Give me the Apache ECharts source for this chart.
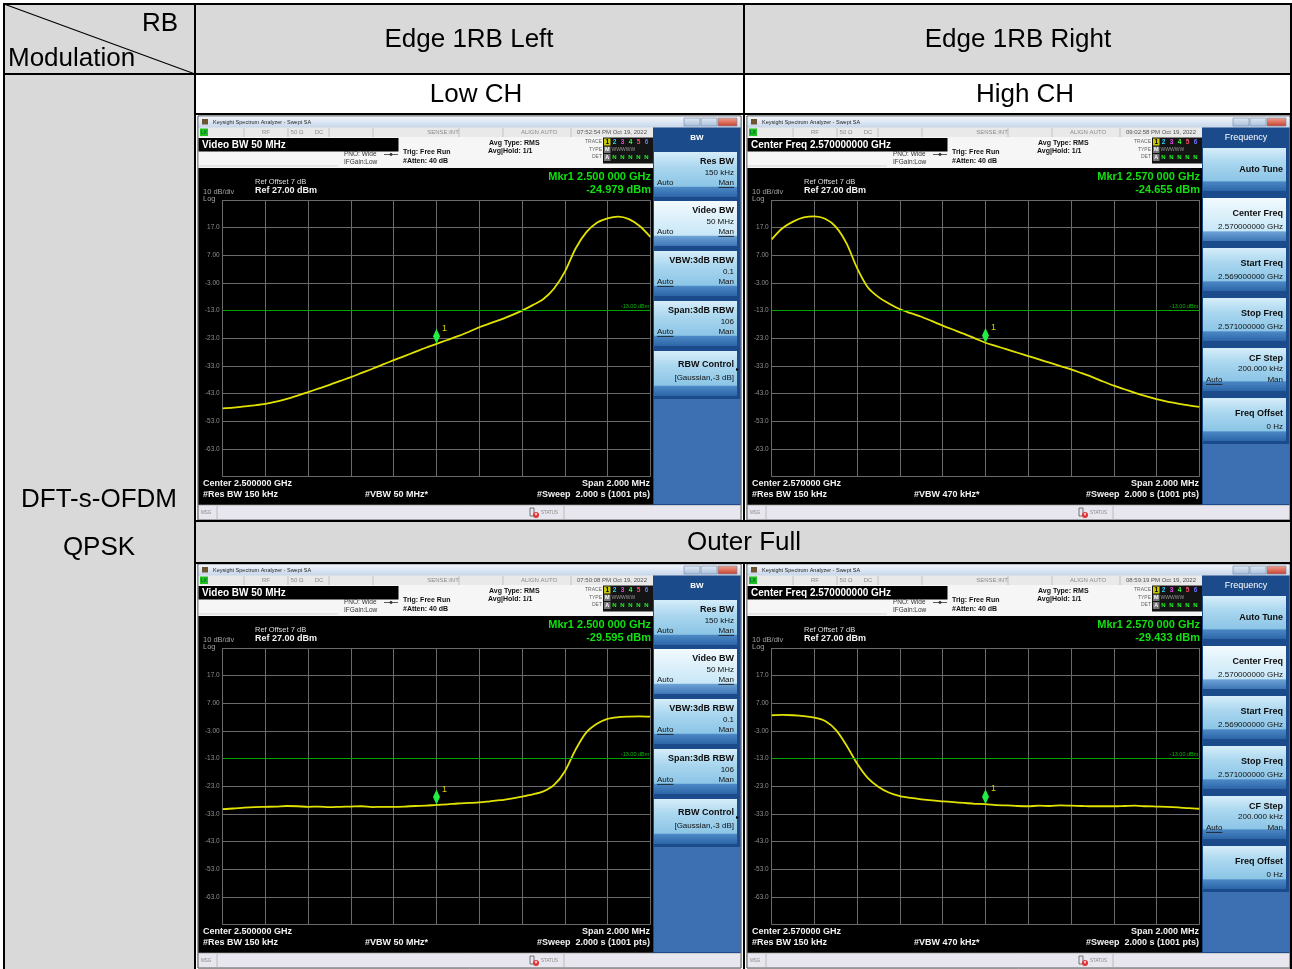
<!DOCTYPE html>
<html><head><meta charset="utf-8">
<script src="https://cdn.jsdelivr.net/npm/echarts@6/dist/echarts.min.js"></script>
<style>html,body{margin:0;padding:0;background:#fff;}#c{width:1292px;height:969px;}</style>
</head><body><div id="c"></div>
<script>
// ---------- DATA ----------
const freqOffsetMHz = [-1.00,-0.95,-0.90,-0.85,-0.80,-0.75,-0.70,-0.65,-0.60,-0.55,-0.50,-0.45,-0.40,-0.35,-0.30,-0.25,-0.20,-0.15,-0.10,-0.05,0.00,0.05,0.10,0.15,0.20,0.25,0.30,0.35,0.40,0.45,0.50,0.55,0.60,0.65,0.70,0.75,0.80,0.85,0.90,0.95,1.00];
const lowChDbm = [-48.3,-48.0,-47.6,-47.2,-46.7,-45.9,-44.9,-43.7,-42.4,-41.1,-39.8,-38.4,-37.0,-35.5,-34.0,-32.4,-30.9,-29.4,-27.9,-26.4,-25.0,-23.6,-22.2,-20.7,-19.0,-17.6,-16.2,-14.7,-13.0,-11.0,-8.8,-5.0,1.0,9.4,15.3,18.8,20.4,21.0,20.1,17.6,13.7];
const highChDbm = [12.8,16.8,19.2,20.7,21.1,20.2,17.3,11.3,2.3,-4.6,-8.1,-10.5,-12.5,-13.9,-15.2,-16.8,-18.4,-19.9,-21.4,-23.0,-24.6,-25.8,-27.0,-28.2,-29.4,-30.6,-31.8,-33.0,-34.2,-35.6,-37.0,-38.6,-40.1,-41.4,-42.7,-43.9,-45.0,-45.9,-46.6,-47.2,-47.8];
const outerLeftDbm = [-31.2,-31.0,-30.7,-30.5,-30.4,-30.3,-30.1,-30.2,-30.4,-30.3,-30.5,-30.4,-30.3,-30.2,-30.5,-30.4,-30.4,-30.3,-30.1,-30.0,-29.7,-29.5,-29.2,-29.0,-28.8,-28.4,-28.0,-27.4,-26.7,-25.9,-24.8,-22.5,-17.6,-9.8,-3.6,-0.4,1.4,2.0,2.2,2.3,2.2];
const outerRightDbm = [2.7,2.8,2.7,2.4,1.8,0.6,-2.6,-8.2,-14.8,-20.0,-23.2,-25.3,-26.5,-27.2,-27.7,-28.1,-28.4,-28.7,-29.0,-29.3,-29.4,-29.8,-29.9,-30.1,-30.2,-30.0,-30.1,-29.9,-30.0,-30.1,-30.2,-30.2,-30.2,-30.1,-30.0,-30.2,-30.3,-30.4,-30.6,-30.9,-31.1];
const yTickValues = [17, 7, -3, -13, -23, -33, -43, -53, -63];
const yTickLabels = ['17.0','7.00','-3.00','-13.0','-23.0','-33.0','-43.0','-53.0','-63.0'];
const refLevelDbm = 27, bottomDbm = -73, dbPerDiv = 10;
const spanMinMHz = -1, spanMaxMHz = 1, mhzPerDiv = 0.2;
const limitDbm = -13;
const limitLabel = '-13.00 dBm';
const markerFreqMHz = [0, 0, 0, 0];
const markerDbm = [-24.979, -24.655, -29.595, -29.433];
const columnHeaders = ['Edge 1RB Left', 'Edge 1RB Right'];
const channelLabels = ['Low CH', 'High CH'];

// ---------- helpers ----------
const F = "'Liberation Sans', Arial, Helvetica, sans-serif";
const G = [];
const mctx = document.createElement('canvas').getContext('2d');
function tw(t, font){ mctx.font = font; return mctx.measureText(t).width; }
function R(x,y,w,h,fill,o){ o=o||{}; const st={fill:fill}; if(o.stroke){st.stroke=o.stroke; st.lineWidth=o.lw||1;} G.push({type:'rect', silent:true, z:o.z||1, shape:{x:x,y:y,width:w,height:h}, style:st}); }
function L(x1,y1,x2,y2,stroke,lw,z){ G.push({type:'line', silent:true, z:z||2, shape:{x1:x1,y1:y1,x2:x2,y2:y2}, style:{stroke:stroke, lineWidth:lw||1}}); }
function C(cx,cy,r,fill,z){ G.push({type:'circle', silent:true, z:z||10, shape:{cx:cx,cy:cy,r:r}, style:{fill:fill}}); }
function T(x,y,t,size,fill,o){ o=o||{}; const font=(o.bold?'bold ':'')+size+'px '+F; const al=o.align||'left';
  G.push({type:'text', silent:true, z:o.z||10, x:x, y:y, style:{text:t, fill:fill, font:font, textAlign:al, textVerticalAlign:'middle', align:al, verticalAlign:'middle'}});
  if(o.ul){ const w=tw(t,font); const x0 = al==='right'? x-w : (al==='center'? x-w/2 : x); L(x0, y+size*0.55, x0+w, y+size*0.55, fill, 0.8, 11); } }
function LG(stops){ return new echarts.graphic.LinearGradient(0,0,0,1, stops.map(s=>({offset:s[0], color:s[1]}))); }

// ---------- table ----------
R(4,4,1288,70,'#d9d9d9');
R(4,74,191,895,'#d9d9d9');
R(195,74,1097,40,'#ffffff');
R(195,521,1097,42,'#d9d9d9');
[[3,4,1292,4],[4,3,4,969],[195,4,195,969],[744,4,744,521],[744,563,744,969],[1291,4,1291,969],
 [4,74,1292,74],[195,114,1292,114],[195,521,1292,521],[195,563,1292,563]].forEach(l=>L(l[0],l[1],l[2],l[3],'#000',2,20));
L(4,4,195,74,'#000',1.2,20);
T(178,24,'RB',26,'#000',{align:'right'});
T(8,59,'Modulation',26,'#000');
T(469,40,columnHeaders[0],26,'#000',{align:'center'});
T(1018,40,columnHeaders[1],26,'#000',{align:'center'});
T(476,95,channelLabels[0],26,'#000',{align:'center'});
T(1025,95,channelLabels[1],26,'#000',{align:'center'});
T(744,543,'Outer Full',26,'#000',{align:'center'});
T(99,500,'DFT-s-OFDM',26,'#000',{align:'center'});
T(99,548,'QPSK',26,'#000',{align:'center'});

// ---------- screenshot chrome ----------
const bwPanel = {title:'BW', bold:true, buttons:[
  {top:36,h:45,kind:'tri',title:'Res BW',value:'150 kHz',ul:'man'},
  {top:85,h:45,kind:'tri',title:'Video BW',value:'50 MHz',ul:'man',sel:true},
  {top:135,h:45,kind:'tri',title:'VBW:3dB RBW',value:'0.1',ul:'auto'},
  {top:185,h:45,kind:'tri',title:'Span:3dB RBW',value:'106',ul:'auto'},
  {top:235,h:45,kind:'rbw',title:'RBW Control',value:'[Gaussian,-3 dB]'}]};
const freqPanel = {title:'Frequency', bold:false, buttons:[
  {top:32,h:43,kind:'one',title:'Auto Tune'},
  {top:82,h:43,kind:'two',title:'Center Freq',value:'2.570000000 GHz',sel:true},
  {top:132,h:43,kind:'two',title:'Start Freq',value:'2.569000000 GHz'},
  {top:182,h:43,kind:'two',title:'Stop Freq',value:'2.571000000 GHz'},
  {top:232,h:43,kind:'tri',title:'CF Step',value:'200.000 kHz',ul:'auto'},
  {top:282,h:43,kind:'two',title:'Freq Offset',value:'0 Hz'}]};

function screen(ox, oy, c) {
  const X=v=>ox+v, Y=v=>oy+v;
  R(X(0),Y(0),543,404,'#cdd6e2',{stroke:'#2e2e2e',lw:1});
  // title bar
  R(X(0.5),Y(0.5),542,11,LG([[0,'#f3f7fc'],[1,'#c6d6ea']]));
  R(X(4),Y(3),6,5.5,'#6e5330');
  T(X(15),Y(6),'Keysight Spectrum Analyzer - Swept SA',5.5,'#1e1e1e');
  [[486,16,'#e2eaf5','#a8bfdc'],[503,16,'#e2eaf5','#a8bfdc'],[520,19,'#f2a595','#c63e2c']].forEach(b=>{
    R(X(b[0]),Y(2),b[1],8,LG([[0,b[2]],[1,b[3]]]),{stroke:'#6f86a6',lw:0.6,z:2}); });
  // status row
  R(X(0.5),Y(11.5),455,9.5,'#e9e9e9');
  [46,90,131,175,261,305,373].forEach(v=>L(X(v),Y(12),X(v),Y(21),'#b3b3b3',0.7));
  R(X(2),Y(12.5),8,7.5,'#20c020',{z:2});
  T(X(3),Y(16.4),'LX',4.5,'#064',{bold:true});
  [['RF',68],['50 Ω',99],['DC',121],['SENSE:INT',245],['ALIGN AUTO',341]].forEach(s=>T(X(s[1]),Y(16.5),s[0],6,'#8c8c8c',{align:'center'}));
  T(X(414),Y(16.5),c.time,6,'#555',{align:'center'});
  // info area
  R(X(0.5),Y(21),455,31,'#f6f6f6');
  R(X(0.5),Y(22),200,13.5,'#000',{z:2});
  T(X(4),Y(29),c.active,10,'#fff',{bold:true});
  L(X(1),Y(50),X(140),Y(50),'#cfcfcf',0.8);
  T(X(146),Y(38.5),'PNO: Wide',6.5,'#333');
  T(X(146),Y(46.2),'IFGain:Low',6.5,'#333');
  L(X(186),Y(38.5),X(200),Y(38.5),'#333',0.8,10); C(X(193),Y(38.5),1.4,'#333');
  T(X(205),Y(36.5),'Trig: Free Run',7,'#111',{bold:true});
  T(X(205),Y(45.5),'#Atten: 40 dB',7,'#111',{bold:true});
  T(X(291),Y(27),'Avg Type: RMS',7,'#111',{bold:true});
  T(X(290),Y(35.5),'Avg|Hold: 1/1',7,'#111',{bold:true});
  T(X(404),Y(25.5),'TRACE',5,'#666',{align:'right'});
  T(X(404),Y(33.3),'TYPE',5,'#666',{align:'right'});
  T(X(404),Y(41),'DET',5,'#666',{align:'right'});
  R(X(405),Y(21.5),50,26,'#141414',{z:2});
  R(X(406),Y(22.5),6.5,7,'#c8c800',{z:3});
  T(X(409.2),Y(26.2),'1',6.5,'#000',{bold:true,align:'center'});
  [['2','#2ad4ff'],['3','#e04ce0'],['4','#33ff33'],['5','#ff4a6a'],['6','#7070ff']].forEach((d,i)=>T(X(416.5+i*8),Y(26.2),d[0],6.5,d[1],{bold:true,align:'center'}));
  R(X(406),Y(30.5),6.5,6.5,'#777',{z:3});
  T(X(409.2),Y(33.8),'M',5.5,'#fff',{bold:true,align:'center'});
  T(X(413.5),Y(33.8),'WWWWW',5,'#9a9a9a');
  R(X(406),Y(38),6.5,7,'#777',{z:3});
  T(X(409.2),Y(41.5),'A',5.5,'#fff',{bold:true,align:'center'});
  ['N','N','N','N','N'].forEach((d,i)=>T(X(416.5+i*8),Y(41.5),d,6,'#22ee22',{bold:true,align:'center'}));
  // main display
  R(X(0.5),Y(52),455,337,'#000');
  T(X(57),Y(66),'Ref Offset 7 dB',7.5,'#dcdcdc');
  T(X(57),Y(74.5),'Ref 27.00 dBm',9,'#f4f4f4',{bold:true});
  T(X(5),Y(76),'10 dB/div',7.5,'#a0a0a0');
  T(X(5),Y(83),'Log',7.5,'#a0a0a0');
  T(X(453),Y(61),c.mkrFreq,11,'#10e010',{bold:true,align:'right'});
  T(X(453),Y(73.5),c.mkrVal,11,'#10e010',{bold:true,align:'right'});
  T(X(5),Y(368),c.center,9,'#f2f2f2',{bold:true});
  T(X(5),Y(379),'#Res BW 150 kHz',9,'#f2f2f2',{bold:true});
  T(X(167),Y(379),c.vbw,9,'#f2f2f2',{bold:true});
  T(X(452),Y(368),'Span 2.000 MHz',9,'#f2f2f2',{bold:true,align:'right'});
  T(X(452),Y(379),'#Sweep  2.000 s (1001 pts)',9,'#f2f2f2',{bold:true,align:'right'});
  // msg bar
  R(X(0.5),Y(389),542,14.5,'#e8e6ee',{stroke:'#9a9a9a',lw:0.7});
  T(X(3),Y(396.5),'MSG',4.5,'#888');
  L(X(19),Y(390),X(19),Y(403),'#aaa',0.7);
  G.push({type:'rect',silent:true,z:10,shape:{x:X(332),y:Y(392),width:4,height:8},style:{fill:'none',stroke:'#555',lineWidth:0.8}});
  C(X(338),Y(399),3,'#e03030');
  T(X(338),Y(399),'×',5,'#fff',{align:'center',bold:true,z:11});
  T(X(343),Y(396.5),'STATUS',4.5,'#888');
  L(X(366),Y(390),X(366),Y(403),'#aaa',0.7);
  // right panel
  const p=c.panel;
  R(X(455),Y(11.5),87.5,377.5,'#1c4b8c');
  T(X(499),Y(22),p.title,p.bold?8:9,'#fff',{bold:p.bold,align:'center'});
  let last=0;
  p.buttons.forEach(b=>{
    const t=b.top;
    const g = b.sel ? LG([[0,'#f2fafe'],[0.76,'#c8e7f7'],[0.79,'#6aa0d4'],[1,'#3f76b6']])
                    : LG([[0,'#d6edf9'],[0.35,'#a9d6ef'],[0.76,'#8cc5e6'],[0.79,'#4a86c4'],[1,'#2d66a8']]);
    R(X(456),Y(t),83,b.h,g,{z:2});
    const rx=X(536), lx=X(459);
    if(b.kind==='tri'){
      const o = b.h===45 ? [9.5,20.5,31] : [11,21,32];
      T(rx,Y(t+o[0]),b.title,9,'#0d0d0d',{bold:true,align:'right'});
      T(rx,Y(t+o[1]),b.value,8,'#111',{align:'right'});
      T(lx,Y(t+o[2]),'Auto',8,'#111',{ul:b.ul==='auto'});
      T(rx,Y(t+o[2]),'Man',8,'#111',{align:'right',ul:b.ul==='man'});
    } else if(b.kind==='two'){
      T(rx,Y(t+15.5),b.title,9,'#0d0d0d',{bold:true,align:'right'});
      T(rx,Y(t+28.8),b.value,8,'#111',{align:'right'});
    } else if(b.kind==='one'){
      T(rx,Y(t+22),b.title,9,'#0d0d0d',{bold:true,align:'right'});
    } else {
      T(rx,Y(t+13.5),b.title,9,'#0d0d0d',{bold:true,align:'right'});
      T(rx,Y(t+27),b.value,8,'#111',{align:'right'});
      T(X(541),Y(t+18),'▸',6,'#000',{align:'right'});
    }
    last=t+b.h;
  });
  R(X(456),Y(last+3),86,388-last-3,'#3d70b2',{z:2});
}

const screens = [
  {ox:198, oy:116, data:lowChDbm, time:'07:52:54 PM Oct 19, 2022', active:'Video BW 50 MHz', mkrFreq:'Mkr1 2.500 000 GHz', center:'Center 2.500000 GHz', vbw:'#VBW 50 MHz*', panel:bwPanel},
  {ox:747, oy:116, data:highChDbm, time:'09:02:58 PM Oct 19, 2022', active:'Center Freq 2.570000000 GHz', mkrFreq:'Mkr1 2.570 000 GHz', center:'Center 2.570000 GHz', vbw:'#VBW 470 kHz*', panel:freqPanel},
  {ox:198, oy:564, data:outerLeftDbm, time:'07:50:08 PM Oct 19, 2022', active:'Video BW 50 MHz', mkrFreq:'Mkr1 2.500 000 GHz', center:'Center 2.500000 GHz', vbw:'#VBW 50 MHz*', panel:bwPanel},
  {ox:747, oy:564, data:outerRightDbm, time:'08:59:19 PM Oct 19, 2022', active:'Center Freq 2.570000000 GHz', mkrFreq:'Mkr1 2.570 000 GHz', center:'Center 2.570000 GHz', vbw:'#VBW 470 kHz*', panel:freqPanel}
];
screens.forEach((s,i)=>{ s.mkrVal = markerDbm[i].toFixed(3)+' dBm'; screen(s.ox, s.oy, s); });

const gridCol = '#6a6a6a';
const option = {
  animation:false,
  textStyle:{fontFamily:F},
  graphic:{elements:G},
  grid: screens.map(s=>({left:s.ox+24.7, top:s.oy+84, width:427.6, height:276.7, show:false})),
  xAxis: screens.map((s,i)=>({type:'value', gridIndex:i, min:spanMinMHz, max:spanMaxMHz, interval:mhzPerDiv, z:3,
    axisLine:{show:false}, axisTick:{show:false}, axisLabel:{show:false},
    splitLine:{show:true, lineStyle:{color:gridCol, width:1}}})),
  yAxis: screens.map((s,i)=>({type:'value', gridIndex:i, min:bottomDbm, max:refLevelDbm, interval:dbPerDiv, z:3,
    axisLine:{show:false}, axisTick:{show:false},
    axisLabel:{show:true, margin:3, fontSize:6.5, color:'#8e8e8e', fontFamily:F, showMinLabel:false, showMaxLabel:false,
      formatter:v=>{ const k=yTickValues.indexOf(Math.round(v)); return k>=0?yTickLabels[k]:''; }},
    splitLine:{show:true, lineStyle:{color:gridCol, width:1}}})),
  series: screens.map((s,i)=>({type:'line', xAxisIndex:i, yAxisIndex:i, z:4,
    data: freqOffsetMHz.map((f,k)=>[f, s.data[k]]), showSymbol:false, smooth:0.3,
    lineStyle:{color:'#e2e200', width:1.8}, itemStyle:{color:'#e2e200'},
    markLine:{silent:true, symbol:['none','none'], animation:false,
      lineStyle:{color:'#00a400', width:1, type:'solid'},
      label:{show:true, position:'insideEndTop', formatter:limitLabel, color:'#00c000', fontSize:5.5, distance:1},
      data:[{yAxis:limitDbm}]},
    markPoint:{silent:true, animation:false, symbol:'diamond', symbolSize:[7,15], symbolOffset:[0,-7.5],
      itemStyle:{color:'#22ee44'},
      label:{show:true, formatter:'1', position:[9,-5], color:'#d6d600', fontSize:9, fontFamily:F},
      data:[{coord:[markerFreqMHz[i], markerDbm[i]]}]}
  }))
};
const chart = echarts.init(document.getElementById('c'), null, {renderer:'canvas', width:1292, height:969});
chart.setOption(option);
</script></body></html>
